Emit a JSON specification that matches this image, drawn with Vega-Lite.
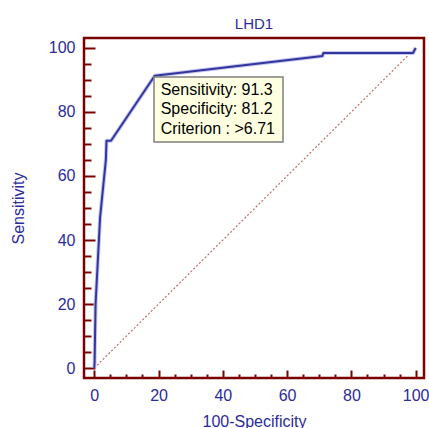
{
  "$schema": "https://vega.github.io/schema/vega-lite/v6.json",
  "width": 340,
  "height": 340,
  "autosize": {"type": "none"},
  "padding": {"left": 84, "top": 38, "right": 5, "bottom": 50},
  "background": "white",
  "config": {
    "view": {"stroke": "#7b0000", "strokeWidth": 2.5},
    "font": "Liberation Sans"
  },
  "title": {"text": "LHD1", "fontSize": 15, "fontWeight": "normal", "color": "#2b2b9b", "offset": 6, "font": "Liberation Sans"},
  "datasets": {
    "roc": [
      {"x": 0, "y": 0, "o": 1},
      {"x": 0.1, "y": 2, "o": 2},
      {"x": 0.4, "y": 20, "o": 3},
      {"x": 1.8, "y": 47, "o": 4},
      {"x": 3.6, "y": 65, "o": 5},
      {"x": 3.8, "y": 71, "o": 6},
      {"x": 5.2, "y": 71, "o": 7},
      {"x": 18.8, "y": 91.3, "o": 8},
      {"x": 71, "y": 97.5, "o": 9},
      {"x": 71.3, "y": 98.4, "o": 10},
      {"x": 99.2, "y": 98.4, "o": 11},
      {"x": 100, "y": 100, "o": 12}
    ],
    "diag": [{"x": 0, "y": 0}, {"x": 100, "y": 100}],
    "note": [{"x": 18.8, "y": 91.3, "label": "Sensitivity: 91.3\nSpecificity: 81.2\nCriterion : >6.71"}]
  },
  "encoding": {
    "x": {
      "field": "x", "type": "quantitative",
      "scale": {"domain": [-3.2, 102.6], "nice": false, "zero": false},
      "axis": {
        "values": [0,5,10,15,20,25,30,35,40,45,50,55,60,65,70,75,80,85,90,95,100],
        "tickSize": {"condition": {"test": "datum.value % 20 === 0", "value": -8}, "value": -4},
        "tickColor": "#7b0000", "tickWidth": 2, "domain": false, "grid": false,
        "labelExpr": "datum.value % 20 === 0 ? datum.label : ''",
        "labelFontSize": 16, "labelColor": "#2b2b9b", "labelPadding": 17,
        "labelFlush": false, "labelOverlap": false,
        "title": "100-Specificity", "titleFontSize": 16, "titleFontWeight": "normal",
        "titleColor": "#2b2b9b", "titlePadding": 6
      }
    },
    "y": {
      "field": "y", "type": "quantitative",
      "scale": {"domain": [-3.1, 103.1], "nice": false, "zero": false},
      "axis": {
        "values": [0,5,10,15,20,25,30,35,40,45,50,55,60,65,70,75,80,85,90,95,100],
        "tickSize": {"condition": {"test": "datum.value % 20 === 0", "value": -11}, "value": -7},
        "tickColor": "#7b0000", "tickWidth": 2, "domain": false, "grid": false,
        "labelExpr": "datum.value % 20 === 0 ? datum.label : ''",
        "labelFontSize": 16, "labelColor": "#2b2b9b", "labelPadding": 20,
        "labelFlush": false, "labelOverlap": false,
        "title": "Sensitivity", "titleFontSize": 16, "titleFontWeight": "normal",
        "titleColor": "#2b2b9b", "titlePadding": 22
      }
    }
  },
  "layer": [
    {
      "data": {"name": "diag"},
      "mark": {"type": "line", "color": "#c46a6a", "strokeWidth": 1.2, "strokeDash": [2, 2]}
    },
    {
      "data": {"name": "roc"},
      "mark": {"type": "line", "color": "#c4c7ee", "strokeWidth": 4, "strokeJoin": "round"},
      "encoding": {"order": {"field": "o", "type": "quantitative"}}
    },
    {
      "data": {"name": "roc"},
      "mark": {"type": "line", "color": "#34349e", "strokeWidth": 2, "strokeJoin": "round"},
      "encoding": {"order": {"field": "o", "type": "quantitative"}}
    },
    {
      "data": {"name": "note"},
      "mark": {"type": "rect", "width": 129, "height": 65, "xOffset": 63.8, "yOffset": 33.7, "fill": "#ffffe1", "stroke": "#808080", "strokeWidth": 1.5}
    },
    {
      "data": {"name": "note"},
      "mark": {"type": "text", "align": "left", "baseline": "top", "dx": 6, "dy": 6, "lineBreak": "\n", "lineHeight": 19.5, "fontSize": 16, "color": "#000000", "font": "Liberation Sans"},
      "encoding": {"text": {"field": "label", "type": "nominal"}}
    }
  ]
}
